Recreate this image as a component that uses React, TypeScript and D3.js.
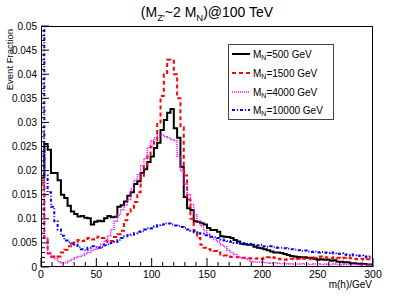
import React from "react";
import * as d3 from "d3";

const binWidth = 3;
const xTicks = [0, 50, 100, 150, 200, 250, 300];
const yTicks = [0, 0.005, 0.01, 0.015, 0.02, 0.025, 0.03, 0.035, 0.04, 0.045, 0.05];
const yTickLabels = ["0", "0.005", "0.01", "0.015", "0.02", "0.025", "0.03", "0.035", "0.04", "0.045", "0.05"];

const mn500 = [
  0.0185, 0.0255, 0.0243, 0.0195, 0.0195, 0.018, 0.015, 0.0143, 0.0127, 0.0115,
  0.011, 0.0105, 0.0106, 0.0102, 0.0101, 0.0088, 0.0094, 0.0096, 0.0095, 0.0101,
  0.0106, 0.0103, 0.0104, 0.0125, 0.0128, 0.0136, 0.0148, 0.0155, 0.0172, 0.0178,
  0.0195, 0.0203, 0.0218, 0.0229, 0.0247, 0.0258, 0.0284, 0.0305, 0.032, 0.0328,
  0.0288, 0.0268, 0.0208, 0.0145, 0.0122, 0.0118, 0.0095, 0.0094, 0.0091, 0.0088,
  0.0081, 0.0077, 0.0077, 0.0073, 0.0064, 0.0063, 0.0062, 0.006, 0.0056, 0.0053,
  0.0048, 0.0047, 0.0046, 0.0046, 0.0042, 0.004, 0.0039, 0.0037, 0.0035, 0.0032,
  0.003, 0.003, 0.0029, 0.0027, 0.0025, 0.0023, 0.0022, 0.0021, 0.002, 0.002,
  0.0019, 0.0019, 0.0017, 0.0015, 0.0016, 0.0015, 0.0015, 0.0013, 0.0014, 0.0011,
  0.0011, 0.001, 0.001, 0.0008, 0.0008, 0.0007, 0.0006, 0.0006, 0.0005, 0.0005,
];

const mn1500 = [
  0.0175, 0.006, 0.0028, 0.0022, 0.0021, 0.0022, 0.003, 0.0036, 0.0043, 0.0048,
  0.0052, 0.0056, 0.0054, 0.0058, 0.006, 0.0057, 0.0058, 0.0063, 0.006, 0.0055,
  0.0052, 0.0054, 0.0062, 0.0068, 0.0075, 0.0097, 0.011, 0.012, 0.0135, 0.0155,
  0.0187, 0.0208, 0.0229, 0.025, 0.026, 0.03, 0.0355, 0.04, 0.043, 0.0428,
  0.04, 0.035, 0.029, 0.019, 0.014, 0.01, 0.0075, 0.006, 0.0046, 0.004,
  0.0037, 0.0035, 0.0033, 0.003, 0.0026, 0.0024, 0.0022, 0.0021, 0.0021, 0.002,
  0.0019, 0.0019, 0.0018, 0.0018, 0.0017, 0.0018, 0.0017, 0.0019, 0.002, 0.0021,
  0.0019, 0.0017, 0.0016, 0.0015, 0.0016, 0.0017, 0.0016, 0.0017, 0.0018, 0.0017,
  0.0018, 0.0016, 0.0019, 0.0021, 0.0022, 0.002, 0.0019, 0.0018, 0.002, 0.0019,
  0.0018, 0.0019, 0.002, 0.0018, 0.0017, 0.0016, 0.0017, 0.0015, 0.0016, 0.0015,
];

const mn4000 = [
  0.0235, 0.006, 0.003, 0.0019, 0.0017, 0.0011, 0.0009, 0.0009, 0.0012, 0.0016,
  0.0019, 0.0022, 0.0024, 0.0027, 0.003, 0.0034, 0.0037, 0.0042, 0.0047, 0.0055,
  0.0065, 0.0078, 0.0095, 0.0108, 0.0118, 0.0128, 0.014, 0.0162, 0.018, 0.0192,
  0.021, 0.0225, 0.0248, 0.0262, 0.0268, 0.0274, 0.0275, 0.027, 0.0268, 0.0264,
  0.0262, 0.023, 0.02, 0.0172, 0.015, 0.013, 0.0108, 0.0095, 0.0085, 0.0075,
  0.0068, 0.0062, 0.0057, 0.0052, 0.0046, 0.0042, 0.0035, 0.003, 0.0026, 0.0022,
  0.0018, 0.0017, 0.0015, 0.0012, 0.0011, 0.001, 0.001, 0.0009, 0.0009, 0.0008,
  0.0009, 0.0008, 0.0007, 0.0007, 0.0006, 0.0007, 0.0006, 0.0006, 0.0007, 0.0006,
  0.0006, 0.0005, 0.0006, 0.0006, 0.0005, 0.0006, 0.0005, 0.0005, 0.0006, 0.0005,
  0.0005, 0.0006, 0.0005, 0.0005, 0.0005, 0.0004, 0.0005, 0.0005, 0.0004, 0.0005,
];

const mn10000 = [
  0.06, 0.019, 0.0155, 0.0125, 0.0095, 0.0078, 0.0065, 0.0055, 0.0052, 0.0049,
  0.0046, 0.0041, 0.0037, 0.0035, 0.004, 0.0043, 0.0041, 0.004, 0.0042, 0.0045,
  0.0047, 0.005, 0.0052, 0.0056, 0.006, 0.0064, 0.0066, 0.0067, 0.007, 0.0073,
  0.0074, 0.0078, 0.0081, 0.008, 0.0084, 0.0087, 0.0088, 0.0091, 0.009, 0.0088,
  0.0086, 0.0085, 0.0083, 0.0081, 0.0078, 0.0075, 0.0072, 0.007, 0.0069, 0.0066,
  0.0067, 0.0063, 0.0062, 0.006, 0.0057, 0.0055, 0.0054, 0.0052, 0.005, 0.0051,
  0.005, 0.0049, 0.0048, 0.0047, 0.0046, 0.0045, 0.0046, 0.0043, 0.0042, 0.0043,
  0.0041, 0.004, 0.004, 0.0039, 0.0038, 0.0037, 0.0036, 0.0035, 0.0033, 0.0034,
  0.0032, 0.0031, 0.0032, 0.003, 0.0031, 0.003, 0.0029, 0.003, 0.0028, 0.0027,
  0.0028, 0.0026, 0.0025, 0.0026, 0.0024, 0.0023, 0.0024, 0.0022, 0.0021, 0.0022,
];

const seriesNames = ["500", "1500", "4000", "10000"];
const seriesData = [mn500, mn1500, mn4000, mn10000];
const seriesColors = ["#000000", "#ff0000", "#ff00ff", "#0000ff"];
const seriesDash = ["", "4,3", "1,1", "3,2,1,2"];
const seriesWidth = [2, 2, 1.5, 2];

const FONT = "'Liberation Sans', Arial, Helvetica, sans-serif";

export default function App() {
  const W = 415, H = 298;
  const L = 41, R = 373, T = 26, B = 267;
  const x = d3.scaleLinear().domain([0, 300]).range([L, R]);
  const y = d3.scaleLinear().domain([0, 0.05]).range([B, T]);

  const line = d3
    .line<[number, number]>()
    .x((d) => x(d[0]))
    .y((d) => y(d[1]))
    .curve(d3.curveStepAfter);

  const makePath = (vals: number[]) => {
    const pts: [number, number][] = [[0, 0]];
    vals.forEach((v, i) => pts.push([i * binWidth, v]));
    pts.push([vals.length * binWidth, vals[vals.length - 1]]);
    return line(pts) || "";
  };

  const xMinor = d3.range(0, 301, 10);
  const yMinor = d3.range(0, 51).map((i) => i * 0.001);

  const legX = 228, legY = 44, legW = 105, legH = 75;
  const rowY = [54, 73, 92, 110];

  return (
    <svg width={W} height={H} style={{ position: "absolute", left: 0, top: 0, background: "#fff" }} fontFamily={FONT}>
      <defs>
        <clipPath id="frame">
          <rect x={L} y={T} width={R - L} height={B - T} />
        </clipPath>
      </defs>
      <rect x={0} y={0} width={W} height={H} fill="#fff" />

      {/* title */}
      <text x={207} y={17} fontSize={14} textAnchor="middle" fill="#000">
        (M<tspan fontSize={9.5} dy={4}>Z'</tspan>
        <tspan dy={-4}>~2 M</tspan>
        <tspan fontSize={9.5} dy={4}>N</tspan>
        <tspan dy={-4}>)@100 TeV</tspan>
      </text>

      {/* histograms */}
      <g clipPath="url(#frame)">
        {seriesData.map((vals, k) => (
          <path
            key={k}
            d={makePath(vals)}
            fill="none"
            stroke={seriesColors[k]}
            strokeWidth={seriesWidth[k]}
            strokeDasharray={seriesDash[k] || undefined}
          />
        ))}
      </g>

      {/* frame */}
      <rect x={L + 0.5} y={T + 0.5} width={R - L - 1} height={B - T - 1} fill="none" stroke="#000" strokeWidth={1} />

      {/* x ticks */}
      {xMinor.map((m) => (
        <line key={"xm" + m} x1={x(m)} x2={x(m)} y1={B} y2={B - (m % 50 === 0 ? 9 : 5)} stroke="#000" strokeWidth={1} />
      ))}
      {xTicks.map((m) => (
        <text key={"xl" + m} x={x(m)} y={278} fontSize={10.5} textAnchor="middle" fill="#000">
          {m}
        </text>
      ))}

      {/* y ticks */}
      {yMinor.map((v, i) => (
        <line key={"ym" + i} x1={L} x2={L + (i % 5 === 0 ? 8 : 4)} y1={y(v)} y2={y(v)} stroke="#000" strokeWidth={1} />
      ))}
      {yTicks.map((v, i) => (
        <text key={"yl" + i} x={37} y={y(v) + 3.5} fontSize={10} textAnchor="end" fill="#000">
          {yTickLabels[i]}
        </text>
      ))}

      {/* axis titles */}
      <text x={372} y={288} fontSize={10} textAnchor="end" fill="#000">
        m(h)/GeV
      </text>
      <text transform="translate(13,29) rotate(-90)" fontSize={9.5} textAnchor="end" fill="#000">
        Event Fraction
      </text>

      {/* legend */}
      <rect x={legX + 0.5} y={legY + 0.5} width={legW} height={legH} fill="#fff" stroke="#444" strokeWidth={1} />
      {seriesNames.map((n, k) => (
        <g key={"lg" + k}>
          <line
            x1={232}
            x2={250}
            y1={rowY[k]}
            y2={rowY[k]}
            stroke={seriesColors[k]}
            strokeWidth={seriesWidth[k]}
            strokeDasharray={seriesDash[k] || undefined}
          />
          <text x={253} y={rowY[k] + 3.5} fontSize={10} fill="#000">
            M<tspan fontSize={7} dy={2.5}>N</tspan>
            <tspan dy={-2.5}>={n} GeV</tspan>
          </text>
        </g>
      ))}
    </svg>
  );
}
